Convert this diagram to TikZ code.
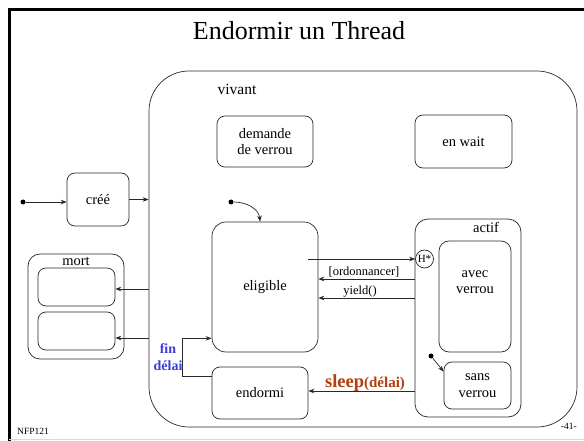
\documentclass[tikz,border=0pt]{standalone}
\usepackage{fontspec}
\setmainfont{Liberation Serif}
\usetikzlibrary{arrows.meta,calc}
\definecolor{sleepc}{RGB}{176,64,16}
\definecolor{finc}{RGB}{60,60,220}
\definecolor{linec}{RGB}{40,40,40}
\begin{document}
\begin{tikzpicture}[x=1pt,y=-1pt,
  box/.style={draw=linec, rounded corners=8pt, line width=0.7pt, inner sep=0pt,
    font=\fontsize{14.5}{16.5}\selectfont, align=center},
  txt/.style={inner sep=0pt, font=\fontsize{14.5}{16.5}\selectfont, align=center},
  arr/.style={draw=linec, -{Stealth[length=6pt,width=4.5pt]}, line width=0.7pt},
  dot/.style={circle, fill=black, inner sep=0pt, minimum size=5pt},
  lab/.style={inner sep=0pt, font=\fontsize{12.5}{14}\selectfont}]
\useasboundingbox (0,0) rectangle (584,441);
\fill[white] (0,0) rectangle (584,441);
\draw[line width=3pt] (9,441) -- (9,9.5) -- (584,9.5);
\draw[black!15, line width=0.8pt] (9,439.5) -- (584,439.5);
\node[inner sep=0pt, font=\fontsize{26}{30}\selectfont, anchor=base] (title) at (299,40) {Endormir un Thread};

% vivant
\node[box, rounded corners=40pt, minimum width=428pt, minimum height=356pt] (vivant) at (363,249) {};
\node[txt, anchor=base, font=\fontsize{15.5}{17}\selectfont] (vivantl) at (237,95) {vivant};

% cree
\node[box, minimum width=62pt, minimum height=53pt] (cree) at (98,199.5) {créé};
\node[dot] (d0) at (23,202) {};
\draw[arr] (d0) -- (d0 -| cree.west);
\draw[arr] (cree.east) -- (cree.east -| vivant.west);

% mort
\node[box, rounded corners=12pt, minimum width=96pt, minimum height=105pt] (mort) at (76,306.5) {};
\node[txt, anchor=base] (mortl) at (76,265) {mort};
\node[box, minimum width=77pt, minimum height=38pt] (mort1) at (76.5,287) {};
\node[box, minimum width=77pt, minimum height=38pt] (mort2) at (76.5,331) {};
\coordinate (m1) at ($(mort1.east)+(0,2)$);
\coordinate (m2) at ($(mort2.east)+(0,7)$);
\draw[arr] (vivant.west |- m1) -- (m1);
\draw[arr] (vivant.west |- m2) -- (m2);

% top states
\node[box, minimum width=96pt, minimum height=51pt] (demande) at (265,141.5) {demande\\de verrou};
\node[box, minimum width=97pt, minimum height=53pt] (enwait) at (463.5,141.5) {en wait};

% eligible
\node[box, rounded corners=14pt, minimum width=106pt, minimum height=130pt] (eligible) at (265,287) {eligible};
\node[dot] (d1) at (231,202) {};
\coordinate (e1) at ($(eligible.north)+(-5,0)$);
\draw[arr] (d1) to[out=0,in=95] (e1);

% endormi
\node[box, minimum width=96pt, minimum height=52pt] (endormi) at (260,393) {endormi};

% actif
\node[box, rounded corners=13pt, minimum width=106pt, minimum height=198pt] (actif) at (468,318) {};
\node[txt, anchor=base] (actifl) at (486,233) {actif};
\node[box, rounded corners=10pt, minimum width=72pt, minimum height=111pt] (avec) at (475,296.5) {};
\node[txt] (avecl) at (475,282) {avec\\verrou};
\node[box, minimum width=67pt, minimum height=47pt] (sans) at (477.5,385.5) {sans\\verrou};
\node[draw=linec, line width=0.7pt, circle, minimum size=18pt, inner sep=0pt, fill=white,
  font=\fontsize{11}{11}\selectfont] (H) at (424.5,259) {H*};
\node[dot] (d2) at (431,356) {};
\coordinate (s1) at ($(sans.north west)+(0,10)$);
\draw[arr] (d2) -- (s1);

% transitions eligible <-> actif
\coordinate (e2) at ($(eligible.east)+(-10,0)$);
\draw[arr] (e2 |- H.west) -- (H.west);
\coordinate (o1) at (0,279);
\coordinate (o2) at (0,298);
\draw[arr] (actif.west |- o1) -- (eligible.east |- o1);
\draw[arr] (actif.west |- o2) -- (eligible.east |- o2);
\node[lab, anchor=base] (ordl) at (364,275) {[ordonnancer]};
\node[lab, anchor=base] (yieldl) at (360,294) {yield()};

% sleep
\coordinate (sl) at ($(endormi.east)+(0,-2)$);
\draw[arr] (actif.west |- sl) -- (sl);
\node[inner sep=0pt, anchor=base, text=sleepc, font=\bfseries] (sleepl) at (365,387)
  {{\fontsize{18.5}{20}\selectfont sleep}{\fontsize{15}{17}\selectfont (délai)}};

% fin delai
\coordinate (fa) at ($(endormi.north west)+(0,10)$);
\coordinate (fb) at ($(eligible.south west)+(0,-14)$);
\draw[arr] (fa) -- ++(-29,0) |- (fb);
\node[inner sep=0pt, text=finc, align=center, font=\bfseries\fontsize{14}{17}\selectfont] (finl) at (168,357) {fin\\délai};

% footer
\node[inner sep=0pt, anchor=base west, font=\fontsize{9.5}{10}\selectfont] (nfp) at (17,434) {NFP121};
\node[inner sep=0pt, anchor=base east, font=\fontsize{9.5}{10}\selectfont] (page) at (577,429) {-41-};
\end{tikzpicture}
\end{document}
